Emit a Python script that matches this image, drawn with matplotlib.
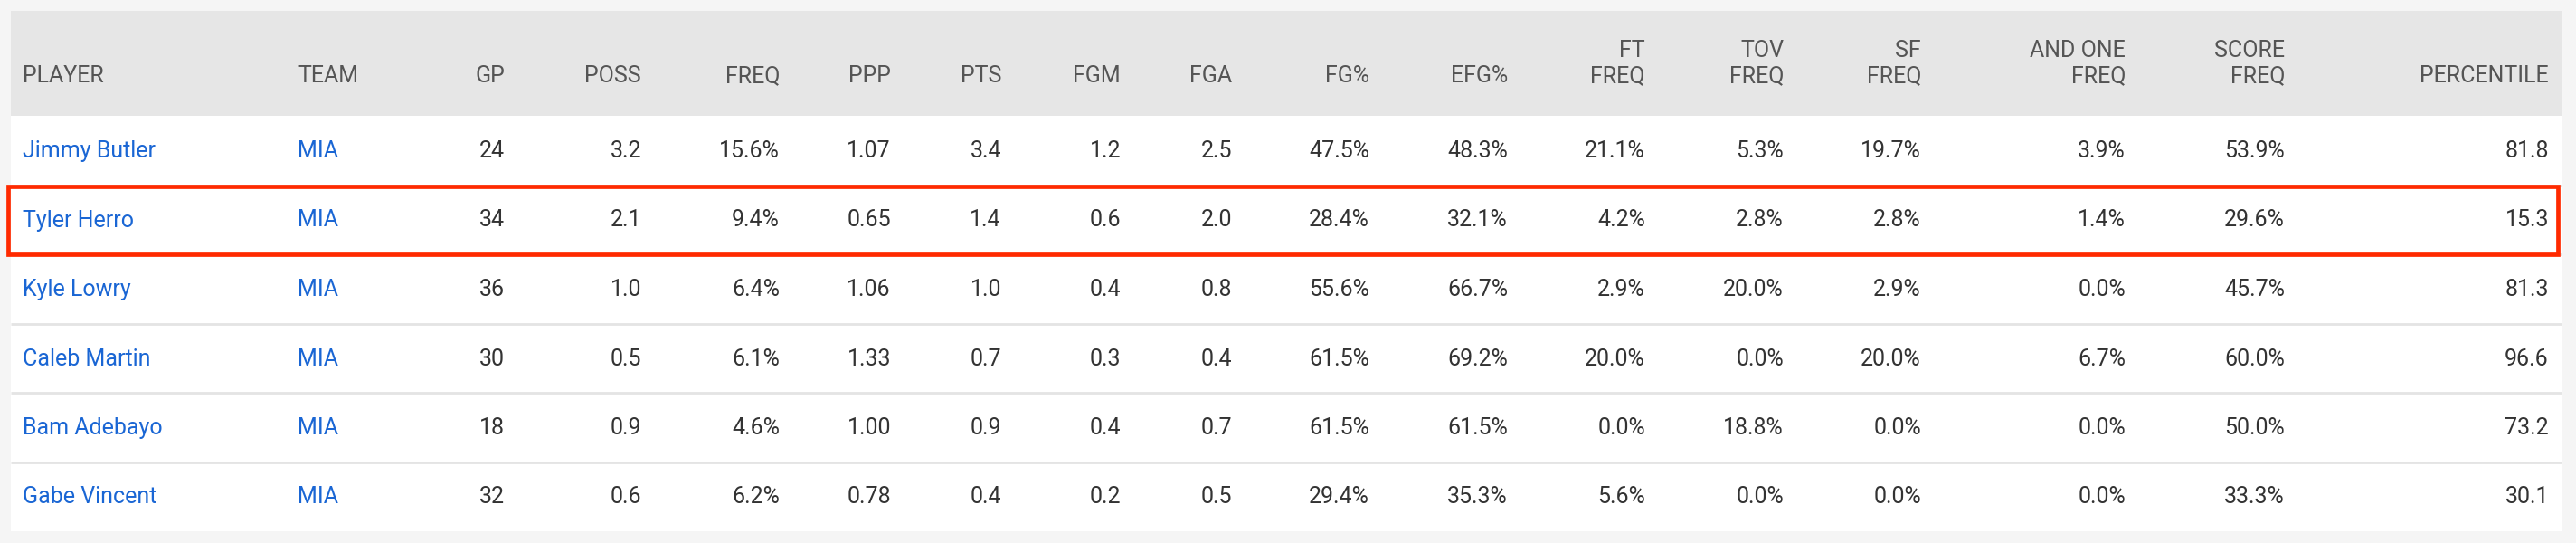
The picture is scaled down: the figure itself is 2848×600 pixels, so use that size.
import matplotlib.pyplot as plt
from matplotlib.patches import Rectangle

plt.rcParams['font.family'] = ['Roboto', 'DejaVu Sans']

# 表格数据
headers = [['PLAYER'], ['TEAM'], ['GP'], ['POSS'], ['FREQ'], ['PPP'], ['PTS'], ['FGM'], ['FGA'],
           ['FG%'], ['EFG%'], ['FT', 'FREQ'], ['TOV', 'FREQ'], ['SF', 'FREQ'],
           ['AND ONE', 'FREQ'], ['SCORE', 'FREQ'], ['PERCENTILE']]
players = ['Jimmy Butler', 'Tyler Herro', 'Kyle Lowry', 'Caleb Martin', 'Bam Adebayo', 'Gabe Vincent']
teams = ['MIA', 'MIA', 'MIA', 'MIA', 'MIA', 'MIA']
gp = [24, 34, 36, 30, 18, 32]
poss = [3.2, 2.1, 1.0, 0.5, 0.9, 0.6]
freq = [15.6, 9.4, 6.4, 6.1, 4.6, 6.2]
ppp = [1.07, 0.65, 1.06, 1.33, 1.00, 0.78]
pts = [3.4, 1.4, 1.0, 0.7, 0.9, 0.4]
fgm = [1.2, 0.6, 0.4, 0.3, 0.4, 0.2]
fga = [2.5, 2.0, 0.8, 0.4, 0.7, 0.5]
fg_pct = [47.5, 28.4, 55.6, 61.5, 61.5, 29.4]
efg_pct = [48.3, 32.1, 66.7, 69.2, 61.5, 35.3]
ft_freq = [21.1, 4.2, 2.9, 20.0, 0.0, 5.6]
tov_freq = [5.3, 2.8, 20.0, 0.0, 18.8, 0.0]
sf_freq = [19.7, 2.8, 2.9, 20.0, 0.0, 0.0]
and_one_freq = [3.9, 1.4, 0.0, 6.7, 0.0, 0.0]
score_freq = [53.9, 29.6, 45.7, 60.0, 50.0, 33.3]
percentile = [81.8, 15.3, 81.3, 96.6, 73.2, 30.1]
highlight = 'Tyler Herro'

# 每列：数据、格式
columns = [
    (gp, '{:d}'), (poss, '{:.1f}'), (freq, '{:.1f}%'), (ppp, '{:.2f}'), (pts, '{:.1f}'),
    (fgm, '{:.1f}'), (fga, '{:.1f}'), (fg_pct, '{:.1f}%'), (efg_pct, '{:.1f}%'),
    (ft_freq, '{:.1f}%'), (tov_freq, '{:.1f}%'), (sf_freq, '{:.1f}%'),
    (and_one_freq, '{:.1f}%'), (score_freq, '{:.1f}%'), (percentile, '{:.1f}'),
]

# 布局（像素）
W, H = 2848, 600
left_x = [25, 329]
right_x = [558, 709, 862, 985, 1107, 1239, 1362, 1514, 1667, 1819, 1972, 2124, 2350, 2526, 2818]
tbl_l, tbl_r, tbl_t = 12, 2832, 12
head_b = 128
row_h = 76.5
fs = 18

fig = plt.figure(figsize=(W / 100, H / 100), dpi=100)
fig.patch.set_facecolor('#f5f5f5')
ax = fig.add_axes([0, 0, 1, 1])
ax.set_xlim(0, W)
ax.set_ylim(H, 0)
ax.axis('off')

n = len(players)
tbl_b = head_b + n * row_h
ax.add_patch(Rectangle((tbl_l, tbl_t), tbl_r - tbl_l, head_b - tbl_t, color='#e6e6e6', lw=0))
ax.add_patch(Rectangle((tbl_l, head_b), tbl_r - tbl_l, tbl_b - head_b, color='white', lw=0))

# 表头
xs = left_x + right_x
for i, (h, x) in enumerate(zip(headers, xs)):
    ha = 'left' if i < 2 else 'right'
    base = [63, 91] if len(h) == 2 else [91]
    for txt, y in zip(h, base):
        ax.text(x, y, txt, ha=ha, va='baseline', fontsize=fs, color='#555555')

# 行
for r in range(n):
    top = head_b + r * row_h
    y = top + 46
    if r > 0:
        ax.plot([tbl_l, tbl_r], [top, top], color='#e4e4e4', lw=2, solid_capstyle='butt')
    ax.text(left_x[0], y, players[r], ha='left', va='baseline', fontsize=fs, color='#1a66d4')
    ax.text(left_x[1], y, teams[r], ha='left', va='baseline', fontsize=fs, color='#1a66d4')
    for (vals, fmt), x in zip(columns, right_x):
        ax.text(x, y, fmt.format(vals[r]), ha='right', va='baseline', fontsize=fs, color='#333333')
    if players[r] == highlight:
        ax.add_patch(Rectangle((9, top + 1), 2819, row_h - 1, fill=False,
                               edgecolor='#ff2a00', lw=3.4, zorder=5))

plt.savefig('out.png', dpi=100, facecolor=fig.get_facecolor())
